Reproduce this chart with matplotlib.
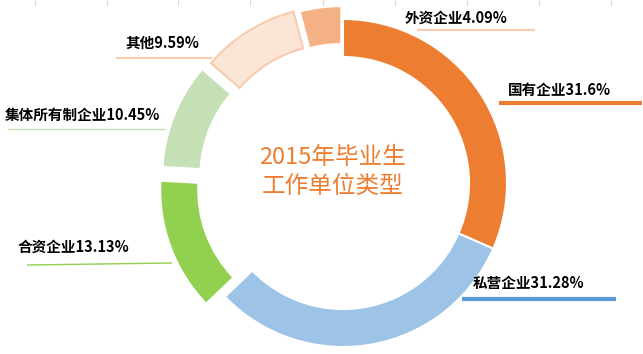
import matplotlib
matplotlib.use("Agg")
from matplotlib import pyplot as plt

plt.rcParams['font.family'] = ['Noto Sans CJK SC', 'DejaVu Sans']

# data, clockwise from 12 o'clock
names = ["国有企业", "私营企业", "合资企业", "集体所有制企业", "其他", "外资企业"]
shares = [31.6, 31.28, 13.13, 10.45, 9.59, 4.09]
colors = ["#ED7D31", "#9DC3E6", "#92D050", "#C5E0B4", "#FBE5D6", "#F4B183"]
edges = ["white", "white", "white", "white", "#F8CBAD", "white"]

W, H = 643, 354
# pie explode is in data units (pixels here)
explode = [0, 0, 20, 18, 15, 13]


def py(y):
    # pixel row from top -> data y
    return H - y


fig = plt.figure(figsize=(6.43, 3.54), dpi=100)
ax = fig.add_axes([0, 0, 1, 1])

wedges, _ = ax.pie(shares, colors=colors, explode=explode, startangle=90,
                   counterclock=False, radius=164, center=(343, py(183)),
                   wedgeprops=dict(width=38, linewidth=1.5))
for w, ec in zip(wedges, edges):
    w.set_edgecolor(ec)

ax.set_xlim(0, W)
ax.set_ylim(0, H)
ax.set_aspect("equal")
ax.axis("off")

# faint spreadsheet cell lines at top
for gx in [35, 107, 178, 250, 323, 395, 467, 539, 611]:
    ax.plot([gx, gx], [py(0), py(5)], color="#D9D9D9", lw=0.8)

# labels: text position and leader line (pixel coords)
labels = {
    "国有企业": ((508, 90), (499, 642, 103, 103), "#ED7D31", 3),
    "私营企业": ((473, 283), (462, 616, 299, 299), "#5B9BD5", 3),
    "合资企业": ((18, 247), (27, 172, 265, 263), "#92D050", 1),
    "集体所有制企业": ((5, 115), (7, 165, 129, 129), "#C5E0B4", 1),
    "其他": ((125, 43), (116, 212, 58, 58), "#F8CBAD", 1.5),
    "外资企业": ((405, 18), (417, 535, 30, 30), "#F8CBAD", 1.5),
}
for name, val in zip(names, shares):
    (tx, ty), (x0, x1, y0, y1), lc, lw = labels[name]
    ax.plot([x0, x1], [py(y0), py(y1)], color=lc, lw=lw, solid_capstyle="butt")
    ax.text(tx, py(ty), f"{name}{val:g}%", fontsize=10.5, fontweight="bold",
            color="black", ha="left", va="center")

ax.text(333, py(172), "2015年毕业生\n工作单位类型", fontsize=17,
        color="#ED7D31", ha="center", va="center", linespacing=1.35)

fig.savefig("out.png", dpi=100)
